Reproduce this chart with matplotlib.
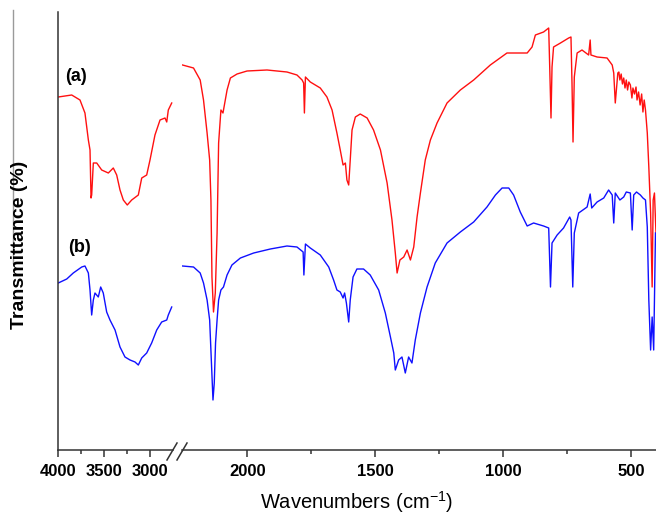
import matplotlib
matplotlib.use("Agg")
import matplotlib.pyplot as plt
from matplotlib.lines import Line2D
from matplotlib.ticker import FixedLocator

plt.rcParams['font.family'] = ['Liberation Sans', 'DejaVu Sans']
plt.rcParams['mathtext.fontset'] = 'custom'
plt.rcParams['mathtext.rm'] = 'Liberation Sans'
plt.rcParams['mathtext.bf'] = 'Liberation Sans:bold'

# ---------------------------------------------------------------------------
# spectra (wavenumber in cm-1, transmittance arb. units)
# ---------------------------------------------------------------------------
# (a) high wavenumber part
red_w_hi = [3997, 3851, 3761, 3707, 3670, 3652, 3641, 3634, 3616, 3579, 3525, 3453,
            3399, 3362, 3326, 3290, 3247, 3199, 3127, 3090, 3036, 3000, 2946, 2891,
            2837, 2818, 2801, 2764]
red_t_hi = [353, 355, 350, 337, 310, 300, 252, 255, 287, 287, 280, 277,
            282, 275, 260, 250, 245, 250, 255, 272, 275, 290, 315, 330,
            332, 328, 340, 347]

# (a) low wavenumber part
red_w_lo = [2253, 2210, 2184, 2171, 2157, 2147, 2142, 2138, 2132, 2125, 2118, 2112,
            2103, 2095, 2079, 2066, 2040, 2001, 1923, 1845, 1806, 1786, 1780, 1777,
            1773, 1754, 1715, 1689, 1669, 1650, 1637, 1626, 1617, 1611, 1604, 1598,
            1591, 1578, 1559, 1532, 1507, 1480, 1454, 1435, 1422, 1415, 1404, 1389,
            1376, 1363, 1350, 1337, 1324, 1305, 1285, 1259, 1220, 1168, 1116, 1051,
            986, 907, 888, 875, 843, 823, 819, 814, 810, 804, 777, 745,
            736, 732, 728, 723, 712, 693, 667, 661, 658, 634, 595, 575,
            569, 563, 553, 549, 545, 540, 535, 530, 525, 520, 515, 510,
            504, 498, 494, 488, 482, 478, 472, 466, 460, 455, 450, 445,
            438, 432, 425, 419, 415, 410, 404]
red_t_lo = [385, 382, 370, 350, 317, 290, 250, 173, 138, 157, 217, 307,
            340, 337, 360, 372, 376, 379, 380, 378, 375, 370, 367, 337,
            373, 368, 362, 353, 340, 317, 300, 285, 287, 270, 265, 290,
            320, 333, 336, 332, 320, 300, 267, 230, 197, 177, 190, 193,
            200, 190, 203, 233, 257, 290, 310, 327, 347, 360, 370, 385,
            397, 397, 403, 415, 418, 422, 383, 332, 383, 403, 407, 412,
            413, 367, 308, 373, 397, 400, 395, 410, 395, 393, 392, 385,
            377, 347, 377, 378, 370, 376, 366, 372, 362, 370, 360, 368,
            365, 352, 362, 356, 363, 350, 358, 345, 356, 338, 350, 340,
            317, 283, 237, 163, 250, 257, 217]

# (b) high wavenumber part
blue_w_hi = [3997, 3905, 3834, 3742, 3707, 3670, 3652, 3634, 3616, 3598, 3562, 3536,
             3508, 3471, 3435, 3380, 3326, 3272, 3217, 3163, 3127, 3090, 3036, 2982,
             2927, 2873, 2818, 2801, 2764]
blue_t_hi = [167, 171, 177, 183, 184, 177, 160, 135, 150, 157, 153, 163,
             157, 138, 130, 120, 103, 93, 90, 88, 85, 92, 97, 107,
             120, 128, 130, 135, 143]

# (b) low wavenumber part
blue_w_lo = [2253, 2210, 2184, 2171, 2157, 2147, 2141, 2134, 2129, 2124, 2118, 2112,
             2103, 2093, 2079, 2060, 2027, 1975, 1910, 1845, 1806, 1782, 1779, 1773,
             1754, 1715, 1682, 1663, 1650, 1637, 1626, 1620, 1613, 1604, 1598, 1587,
             1572, 1546, 1520, 1487, 1461, 1441, 1428, 1422, 1409, 1396, 1383, 1370,
             1357, 1344, 1324, 1298, 1266, 1220, 1168, 1116, 1064, 1031, 1005, 979,
             960, 934, 907, 882, 843, 823, 816, 810, 790, 765, 741, 736,
             729, 723, 706, 673, 661, 655, 634, 608, 589, 575, 569, 563,
             545, 530, 520, 504, 497, 491, 480, 465, 455, 445, 438, 432,
             425, 419, 413, 406]
blue_t_lo = [184, 183, 177, 167, 150, 130, 93, 50, 67, 107, 130, 150,
             160, 163, 175, 185, 192, 197, 201, 204, 203, 198, 175, 206,
             202, 195, 183, 170, 160, 158, 152, 157, 147, 128, 150, 173,
             181, 181, 175, 160, 137, 113, 97, 80, 90, 93, 77, 93,
             87, 110, 137, 163, 187, 207, 218, 228, 243, 255, 262, 262,
             255, 238, 224, 227, 224, 222, 163, 207, 215, 222, 233, 230,
             163, 217, 237, 243, 256, 242, 248, 252, 260, 255, 227, 257,
             250, 253, 258, 257, 220, 255, 258, 255, 252, 250, 223, 150,
             100, 133, 100, 217]

labels = ['(a)', '(b)']
label_w = [3924, 3891]
label_t = [369, 198]

left_xlim = (4000, 2750)
right_xlim = (2255, 402)
ylim = (0, 438)

left_major = [4000, 3500, 3000]
left_minor = [3750, 3250]
right_major = [2000, 1500, 1000, 500]
right_minor = [1750, 1250, 750]

# ---------------------------------------------------------------------------
W, H = 656, 515
fig = plt.figure(figsize=(W / 100, H / 100), dpi=100)

def px(x0, x1, y0, y1):
    # pixel box -> figure fraction rect
    return [x0 / W, 1 - y1 / H, (x1 - x0) / W, (y1 - y0) / H]

axL = fig.add_axes(px(58, 173, 12, 450))
axR = fig.add_axes(px(182, 656.5, 12, 450))

axis_color = '#333333'

for ax, xl, major, minor in [(axL, left_xlim, left_major, left_minor),
                             (axR, right_xlim, right_major, right_minor)]:
    ax.set_xlim(xl)
    ax.set_ylim(ylim)
    ax.spines['top'].set_visible(False)
    ax.spines['right'].set_visible(False)
    ax.spines['bottom'].set_color(axis_color)
    ax.spines['bottom'].set_linewidth(1.1)
    ax.xaxis.set_major_locator(FixedLocator(major))
    ax.xaxis.set_minor_locator(FixedLocator(minor))
    ax.tick_params(axis='x', which='major', length=5, width=1.1, color=axis_color,
                   pad=5, labelsize=12)
    ax.tick_params(axis='x', which='minor', length=3, width=1.1, color=axis_color)
    ax.set_yticks([])
    for t in ax.get_xticklabels():
        t.set_fontweight('bold')
    ax.patch.set_visible(False)

axL.spines['left'].set_color(axis_color)
axL.spines['left'].set_linewidth(1.1)
axR.spines['left'].set_visible(False)

axL.plot(red_w_hi, red_t_hi, color='#ff1010', lw=1.0)
axL.plot(blue_w_hi, blue_t_hi, color='#1010ff', lw=1.0)
axR.plot(red_w_lo, red_t_lo, color='#ff1010', lw=1.0)
axR.plot(blue_w_lo, blue_t_lo, color='#1010ff', lw=1.0)

for lab, w, t in zip(labels, label_w, label_t):
    axL.text(w, t, lab, fontsize=13, fontweight='bold', ha='left', va='baseline')

# axis break marks
for x0 in (167, 177):
    fig.add_artist(Line2D([x0 / W, (x0 + 10) / W], [1 - 460 / H, 1 - 443 / H],
                          color=axis_color, lw=1.1))

# faint scan line at the far left of the original
fig.add_artist(Line2D([13 / W, 13 / W], [1 - 10 / H, 1 - 263 / H],
                      color='#9a9a9a', lw=1.0))

fig.text(357 / W, 1 - 509 / H, r'Wavenumbers (cm$^{\mathregular{-1}}$)',
         fontsize=14.5, ha='center', va='baseline')
fig.text(20 / W, 1 - 245 / H, 'Transmittance (%)', fontsize=14, fontweight='bold',
         rotation=90, ha='center', va='center')

fig.savefig('out.png', dpi=100)
